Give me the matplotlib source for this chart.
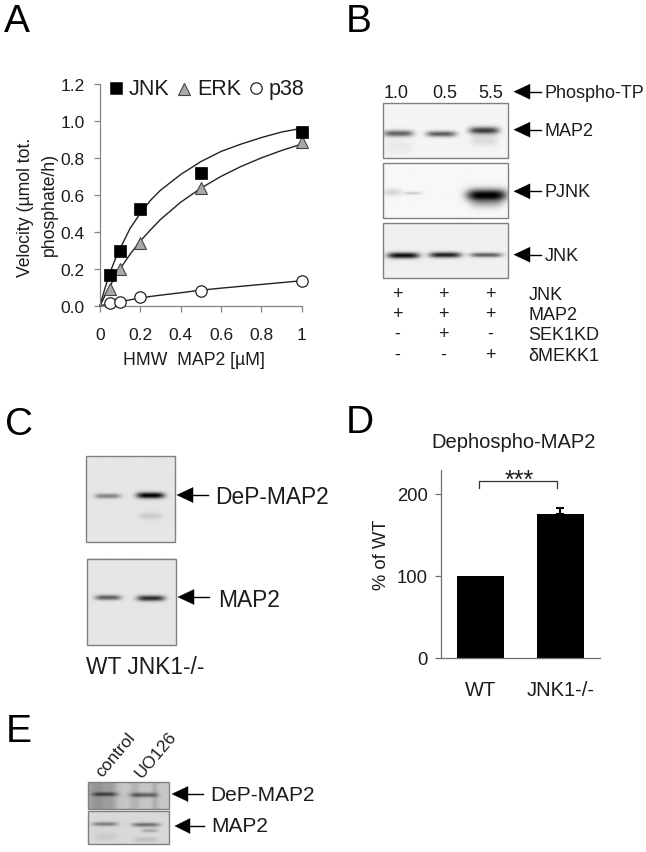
import numpy as np
import matplotlib
matplotlib.use("Agg")
import matplotlib.pyplot as plt
from matplotlib.patches import Polygon, Rectangle

plt.rcParams['font.family'] = ['Liberation Sans', 'DejaVu Sans']

# ---- Panel A data
conc = [0.05, 0.1, 0.2, 0.5, 1]
jnk = [0.165, 0.295, 0.525, 0.72, 0.94]
erk = [0.09, 0.20, 0.34, 0.635, 0.885]
p38 = [0.015, 0.02, 0.045, 0.082, 0.135]
fit_x = [0, 0.025, 0.05, 0.075, 0.1, 0.15, 0.2, 0.25, 0.3, 0.4, 0.5, 0.6, 0.7, 0.8, 0.9, 1]
fit_jnk = [0, 0.096, 0.18, 0.25, 0.31, 0.42, 0.50, 0.57, 0.625, 0.71, 0.78, 0.835, 0.875, 0.91, 0.94, 0.96]
fit_erk = [0, 0.056, 0.108, 0.155, 0.20, 0.28, 0.35, 0.41, 0.467, 0.56, 0.636, 0.70, 0.754, 0.80, 0.84, 0.875]
fit_p38 = [0, 0.006, 0.012, 0.017, 0.022, 0.032, 0.042, 0.05, 0.057, 0.07, 0.084, 0.095, 0.105, 0.115, 0.125, 0.135]
a_xticks = [0, 0.2, 0.4, 0.6, 0.8, 1]
a_xlabels = ['0', '0.2', '0.4', '0.6', '0.8', '1']
a_yticks = [0, 0.2, 0.4, 0.6, 0.8, 1.0, 1.2]

# ---- Panel D data
d_groups = ['WT', 'JNK1-/-']
d_values = [100, 175.5]
d_err = [0, 6.5]
d_yticks = [0, 100, 200]

# ---- Panel B texts
b_ratios = ['1.0', '0.5', '5.5']
b_rows = ['JNK', 'MAP2', 'SEK1KD', 'δMEKK1']
b_signs = [['+', '+', '+'], ['+', '+', '+'], ['-', '+', '-'], ['-', '-', '+']]

W, H = 646, 853
fig = plt.figure(figsize=(W / 100, H / 100), dpi=100, facecolor='white')
ov = fig.add_axes([0, 0, 1, 1], zorder=0)
ov.set_axis_off()


def T(x, y, s, size, ha='left', va='center', **kw):
    kw.setdefault('color', '#1c1c1c')
    ov.text(x, y, s, fontsize=size, ha=ha, va=va, **kw)


def blot(x0, x1, y0, y1, bg, bands, streaks=()):
    xs = np.arange(x0, x1 + 0.5, 0.5)
    ys = np.arange(y0, y1 + 0.5, 0.5)
    X, Y = np.meshgrid(xs, ys)
    img = np.full(X.shape, float(bg))
    for cx, hw, amt in streaks:
        img -= amt * np.exp(-((X - cx) / hw) ** 2)
    for cx, cy, hw, sy, amt in bands:
        img -= amt * np.exp(-np.abs((X - cx) / hw) ** 4) * np.exp(-((Y - cy) / sy) ** 2)
    ov.imshow(np.clip(img, 0, 1), cmap='gray', vmin=0, vmax=1, extent=(x0, x1, y1, y0),
              aspect='auto', interpolation='bilinear', zorder=1)
    ov.add_patch(Rectangle((x0, y0), x1 - x0, y1 - y0, fill=False, ec='#808080', lw=1.0, zorder=2))


def arrow(tip, base, end, y, half=7.5):
    ov.add_patch(Polygon([(tip, y), (base, y - half), (base, y + half)], closed=True, fc='black', ec='black', lw=0.3, zorder=3))
    ov.plot([base, end], [y, y], color='black', lw=1.0, zorder=3)


# Panel letters
for s, x, y in [('A', 4, 32), ('B', 346, 32), ('C', 5, 435), ('D', 346, 433), ('E', 6, 742)]:
    T(x, y, s, 28, va='baseline', color='black')

# Panel B
blot(382.7, 508.3, 104, 158.7, 0.96, [(398, 134.5, 15, 3.2, 0.58), (441, 135, 15, 2.9, 0.6), (484, 131.5, 15, 3.6, 0.72),
                                     (398, 148, 14, 7, 0.05), (484, 141, 14, 6, 0.10)])
blot(382.7, 508.3, 164.3, 219, 0.97, [(392, 193.5, 9, 3.5, 0.13), (412, 194.5, 9, 1.6, 0.16),
                                      (486.5, 196.5, 20, 6.0, 1.0), (486.5, 205, 16, 5, 0.2)])
blot(382.7, 508.3, 224, 278.7, 0.94, [(403, 256.5, 16, 3.0, 0.9), (445, 256, 16, 2.8, 0.82), (486, 256, 16, 2.3, 0.58)])
for x, s in zip([396, 445, 490.7], b_ratios):
    T(x, 93, s, 13, ha='center')
for y, s in zip([92.7, 130.7, 192.3, 255.7], ['Phospho-TP', 'MAP2', 'PJNK', 'JNK']):
    arrow(514, 530, 541, y)
    T(545, y + 0.5, s, 13)
for y, s, row in zip([295, 315, 335, 356], b_rows, b_signs):
    T(528.5, y, s, 13)
    for x, v in zip([397, 443.5, 490], row):
        T(x, y - 0.5, v, 13, ha='center')

# Panel C
blot(86.3, 175, 457.3, 543.3, 0.9, [(108, 497.3, 13, 2.4, 0.4), (151, 496.7, 14, 3.0, 0.92), (151, 517.5, 12, 3.5, 0.1)])
blot(87, 175.6, 560, 646.3, 0.9, [(108, 599.3, 13, 2.5, 0.55), (151, 600, 14, 2.8, 0.75)])
arrow(177, 193, 208, 496)
arrow(178, 194, 209, 598)
T(215, 498, 'DeP-MAP2', 16.4)
T(218, 600.5, 'MAP2', 16.4)
T(86, 667.5, 'WT JNK1-/-', 16.4)

# Panel E
blot(88, 169, 783.3, 809.7, 0.78, [(105, 795.3, 13, 2.0, 0.38), (144, 796, 14, 2.2, 0.42)],
     streaks=[(98, 14, 0.2), (112, 5, 0.08), (135, 5, 0.08), (155, 3, 0.1)])
blot(88, 169, 812.3, 845, 0.85, [(105, 825.3, 13, 2.1, 0.36), (146, 826, 14, 2.1, 0.42),
                                 (105, 838, 11, 4, 0.06), (150, 832, 8, 1.8, 0.2), (146, 841, 12, 2.5, 0.1)])
arrow(172, 188, 203, 795)
arrow(175, 190, 204, 827)
T(210.5, 795.5, 'DeP-MAP2', 15)
T(211, 826.5, 'MAP2', 15)
T(116, 755, 'control', 12.5, ha='center', rotation=50, rotation_mode='anchor')
T(155.5, 755, 'UO126', 12.5, ha='center', rotation=50, rotation_mode='anchor')

# Panel D annotation texts
T(514, 443, 'Dephospho-MAP2', 14.5, ha='center')
T(381, 555, '% of WT', 13.2, ha='center', rotation=90)
T(519, 481, '***', 18, ha='center', va='center')
ov.plot([479, 479, 557.3, 557.3], [489.3, 481.7, 481.7, 489.3], color='#333333', lw=0.9, zorder=3)

# Panel A side texts
T(25.7, 207, 'Velocity (µmol tot.', 12.7, ha='center', rotation=90)
T(49, 204, 'phosphate/h)', 12.7, ha='center', rotation=90)
T(194, 360, 'HMW  MAP2 [µM]', 12.7, ha='center')

ov.set_xlim(0, W)
ov.set_ylim(H, 0)


def frac(l, r, top, bot):
    return [l / W, 1 - bot / H, (r - l) / W, (bot - top) / H]


# Panel A axes
axA = fig.add_axes(frac(100, 301.7, 85, 306.7), zorder=1, facecolor='none')
axA.set_xlim(0, 1)
axA.set_ylim(0, 1.2)
axis_c = '#858585'
for s in ['top', 'right']:
    axA.spines[s].set_visible(False)
for s in ['left', 'bottom']:
    axA.spines[s].set_color(axis_c)
    axA.spines[s].set_linewidth(0.9)
axA.set_xticks(a_xticks, a_xlabels)
axA.set_yticks(a_yticks, [f'{v:.1f}' for v in a_yticks])
axA.tick_params(axis='both', length=4, width=0.9, color=axis_c, labelsize=12.5, labelcolor='#1c1c1c')
axA.tick_params(axis='x', pad=11)
axA.tick_params(axis='y', pad=7)
for fy in (fit_jnk, fit_erk, fit_p38):
    axA.plot(fit_x, fy, color='#222222', lw=1.0, zorder=2, clip_on=False)
axA.plot(conc, p38, 'o', ms=8.2, mfc='white', mec='#222222', mew=0.9, zorder=3, clip_on=False)
axA.plot(conc, erk, '^', ms=9, mfc='#a9a9a9', mec='#444444', mew=0.8, zorder=4, clip_on=False)
axA.plot(conc, jnk, 's', ms=8.8, mfc='black', mec='black', mew=0.5, zorder=5, clip_on=False)
# legend
ov.plot([116], [89], 's', ms=9, mfc='black', mec='black', mew=0.4)
ov.plot([184.3], [89.5], '^', ms=9, mfc='#a9a9a9', mec='#444444', mew=0.8)
ov.plot([256], [89], 'o', ms=8.2, mfc='white', mec='#222222', mew=0.9)
T(129, 89.5, 'JNK', 15.5)
T(197, 89.5, 'ERK', 15.5)
T(269, 89.5, 'p38', 15.5)

# Panel D axes
axD = fig.add_axes(frac(440.7, 600, 470.7, 658.7), zorder=1, facecolor='none')
axD.set_xlim(-0.494, 1.4975)
axD.set_ylim(0, 229.3)
for s in ['top', 'right']:
    axD.spines[s].set_visible(False)
for s in ['left', 'bottom']:
    axD.spines[s].set_color('#707070')
    axD.spines[s].set_linewidth(0.9)
axD.bar(range(len(d_groups)), d_values, width=0.585, color='black', zorder=2)
axD.errorbar([1], [d_values[1]], yerr=[[0], [d_err[1]]], color='black', capsize=3, lw=1.5, capthick=1.5, zorder=1)
axD.set_xticks(range(len(d_groups)), d_groups)
axD.set_yticks(d_yticks)
axD.tick_params(axis='y', length=4.5, width=0.9, color='#707070', labelsize=13.3, labelcolor='#1c1c1c', pad=5)
axD.tick_params(axis='x', length=0, labelsize=14.5, labelcolor='#1c1c1c', pad=16)

fig.savefig('out.png', dpi=100, facecolor='white')
